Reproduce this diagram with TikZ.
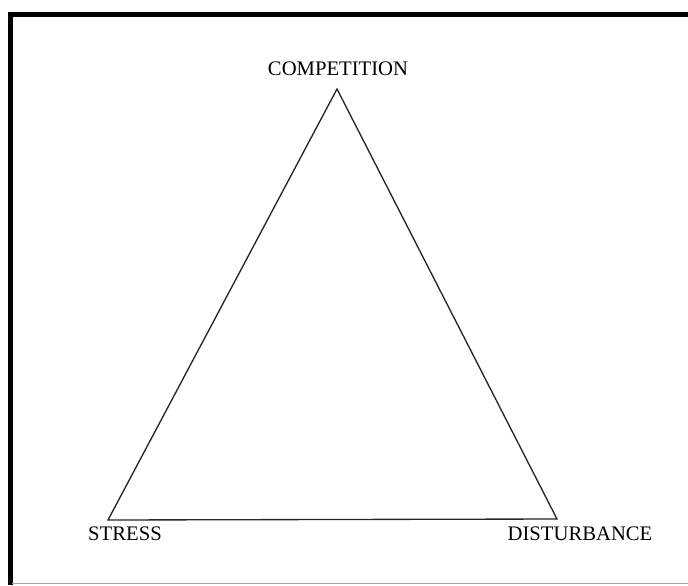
\documentclass[tikz,border=0pt]{standalone}
\usepackage{fontspec}
\setmainfont{Liberation Serif}
\begin{document}
\begin{tikzpicture}[x=0.75pt,y=-0.75pt,
  lbl/.style={font=\fontsize{15.5}{18}\selectfont, inner sep=0pt},
  side/.style={draw=black!85, line width=1pt, line join=miter},
  frame/.style={draw=black, line width=3.6pt}]
\useasboundingbox (0,0) rectangle (688,585);
\fill[white] (0,0) rectangle (688,585);
% frame
\draw[frame] (10.5,12) -- (10.5,585);
\draw[frame] (8.7,14.5) -- (688,14.5);
\draw[black!35, line width=0.8pt] (12,583.5) -- (688,583.5);
% vertices
\coordinate (c) at (337,89);
\coordinate (s) at (108,520);
\coordinate (d) at (557,519);
\draw[side] (c) -- (s) -- (d) -- cycle;
% labels
\node[lbl] (lc) at (338,69) {COMPETITION};
\node[lbl] (ls) at (125,534) {STRESS};
\node[lbl] (ld) at (580,534) {DISTURBANCE};
\end{tikzpicture}
\end{document}
